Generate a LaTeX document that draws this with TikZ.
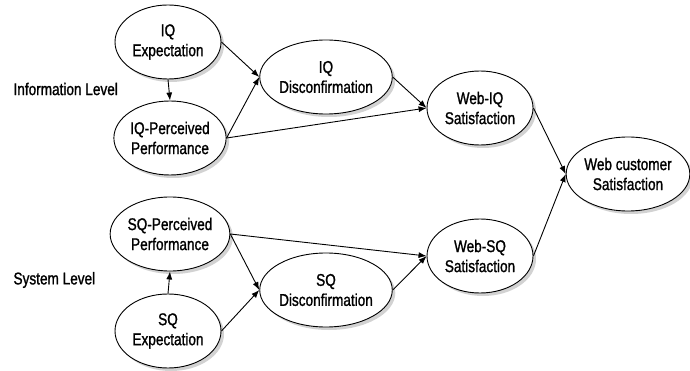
\documentclass[tikz,border=0pt]{standalone}
\usepackage{fontspec}
\setmainfont{Liberation Sans}[FakeStretch=0.8,FakeBold=1.2]
\usepackage{tikz}
\usetikzlibrary{arrows.meta,shadows,shapes.geometric}
\definecolor{shadowgray}{RGB}{165,165,165}

\begin{document}
\begin{tikzpicture}[x=1pt,y=-1pt,
  construct/.style={ellipse,draw,line width=0.9pt,fill=white,
    minimum width=106pt,minimum height=74pt,inner sep=0pt,align=center,
    drop shadow={shadow xshift=3pt,shadow yshift=-3pt,fill=shadowgray}},
  causal/.style={line width=0.9pt,-{Latex[length=8pt,width=6pt]}},
  level/.style={anchor=west,font=\fontsize{17}{20}\selectfont},
  font=\fontsize{17}{20}\selectfont]
\useasboundingbox (0,0) rectangle (690,371);

% Information level
\node[construct] (iqe) at (168,42) {IQ\\Expectation};
\node[construct] (iqp) at (170,138) {IQ-Perceived\\Performance};
\node[construct] (iqd) at (326,77) {IQ\\Disconfirmation};
\node[construct] (wiq) at (480,108) {Web-IQ\\Satisfaction};

% Overall
\node[construct] (wcs) at (628,174) {Web customer\\Satisfaction};

% System level
\node[construct] (sqp) at (170,234) {SQ-Perceived\\Performance};
\node[construct] (sqe) at (168,331) {SQ\\Expectation};
\node[construct] (sqd) at (326,290) {SQ\\Disconfirmation};
\node[construct] (wsq) at (480,256) {Web-SQ\\Satisfaction};

% Level labels
\node[level] (infolevel) at (10,89) {Information Level};
\node[level] (syslevel) at (10,280) {System Level};

% Paths
\draw[causal] (iqe.south) -- (iqp.north);
\draw[causal] (iqe.east) -- (iqd.west);
\draw[causal] (iqp.east) -- (iqd.west);
\draw[causal] (iqp.east) -- (wiq.west);
\draw[causal] (iqd.east) -- (wiq.west);
\draw[causal] (wiq.east) -- (wcs.west);

\draw[causal] (sqe.north) -- (sqp.south);
\draw[causal] (sqe.east) -- (sqd.west);
\draw[causal] (sqp.east) -- (sqd.west);
\draw[causal] (sqp.east) -- (wsq.west);
\draw[causal] (sqd.east) -- (wsq.west);
\draw[causal] (wsq.east) -- (wcs.west);
\end{tikzpicture}
\end{document}
